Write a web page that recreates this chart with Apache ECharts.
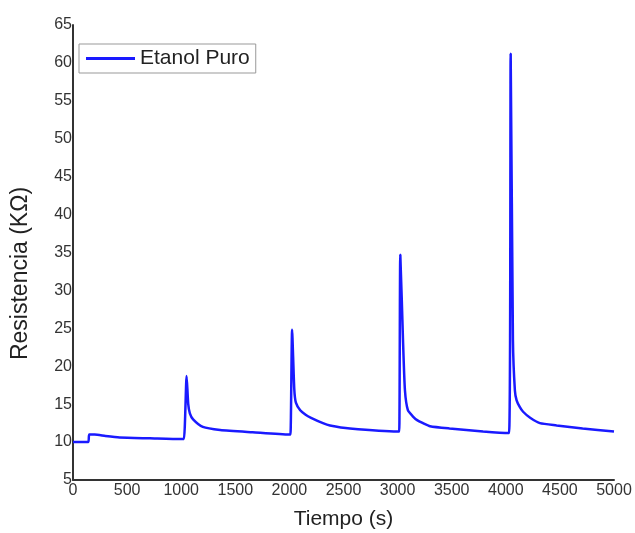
<!DOCTYPE html>
<html>
<head>
<meta charset="utf-8">
<script src="https://cdn.jsdelivr.net/npm/echarts@6/dist/echarts.min.js"></script>
<style>html,body{margin:0;padding:0;background:#fff;}#c{width:635px;height:533px;}</style>
</head>
<body>
<div id="c"></div>
<script>
var seriesName = 'Etanol Puro';
var xTitle = 'Tiempo (s)';
var yTitle = 'Resistencia (KΩ)';
var times = [0, 140, 150, 200, 300, 430, 710, 1000, 1025, 1050, 1065, 1080, 1110, 1200, 1360, 1660, 2000, 2010, 2025, 2045, 2060, 2100, 2150, 2200, 2310, 2375, 2560, 3000, 3015, 3025, 3050, 3068, 3095, 3140, 3180, 3235, 3300, 3480, 3790, 4030, 4045, 4066, 4084, 4100, 4130, 4160, 4225, 4315, 4470, 4710, 5000];
var resistance = [10.0, 10.0, 11.0, 11.0, 10.8, 10.6, 10.5, 10.4, 10.4, 18.7, 15.0, 13.8, 13.0, 12.0, 11.6, 11.3, 11.0, 11.0, 24.8, 17.0, 15.2, 14.2, 13.6, 13.2, 12.5, 12.2, 11.8, 11.4, 11.4, 34.7, 23.4, 16.8, 14.2, 13.4, 12.9, 12.5, 12.1, 11.8, 11.4, 11.2, 61.2, 23.4, 16.8, 15.5, 14.6, 14.0, 13.2, 12.5, 12.2, 11.8, 11.4];

var data = times.map(function (t, i) { return [t, resistance[i]]; });
var chart = echarts.init(document.getElementById('c'));
var font = '"Liberation Sans", Arial, sans-serif';
chart.setOption({
  animation: false,
  backgroundColor: '#fff',
  grid: { left: 73, right: 21, top: 25, bottom: 53, containLabel: false, outerBoundsMode: 'none' },
  legend: {
    data: [seriesName],
    left: 79, top: 44,
    icon: 'rect', itemWidth: 49, itemHeight: 3,
    padding: [4, 6, 4, 7],
    borderColor: '#999', borderWidth: 1,
    textStyle: { fontFamily: font, fontSize: 21, color: '#222' }
  },
  xAxis: {
    type: 'value', min: 0, max: 5000, interval: 500,
    name: xTitle, nameLocation: 'middle', nameGap: 29,
    nameTextStyle: { fontFamily: font, fontSize: 21, color: '#222' },
    axisLine: { onZero: false, lineStyle: { color: '#333', width: 2 } },
    axisTick: { show: false },
    splitLine: { show: false },
    axisLabel: { fontFamily: font, fontSize: 16, color: '#333', margin: 3, formatter: function (v) { return String(v); } }
  },
  yAxis: {
    type: 'value', min: 5, max: 65, interval: 5,
    name: yTitle, nameLocation: 'middle', nameGap: 41,
    nameTextStyle: { fontFamily: font, fontSize: 23, color: '#222', padding: [0, 42, 0, 0] },
    axisLine: { show: true, lineStyle: { color: '#333', width: 2 } },
    axisTick: { show: false },
    splitLine: { show: false },
    axisLabel: { fontFamily: font, fontSize: 16, color: '#333', margin: 1 }
  },
  series: [{
    name: seriesName, type: 'line', data: data,
    symbol: 'none', smooth: 0.2,
    lineStyle: { color: '#1a1aff', width: 2.5 },
    itemStyle: { color: '#1a1aff' }
  }]
});
</script>
</body>
</html>
